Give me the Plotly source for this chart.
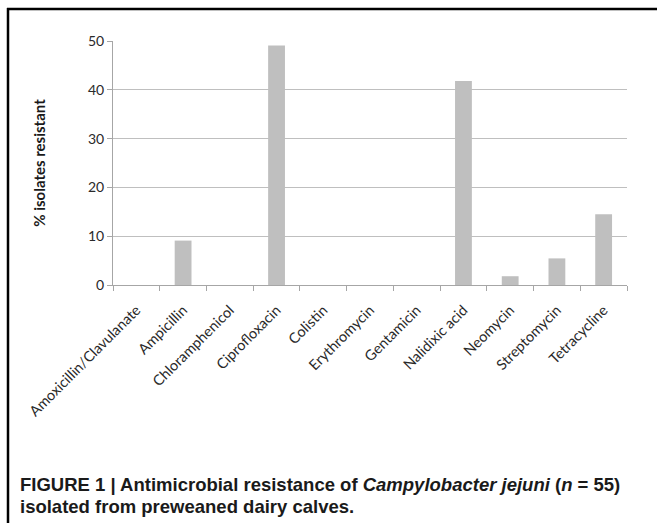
import plotly.graph_objects as go

categories = ["Amoxicillin/Clavulanate", "Ampicillin", "Chloramphenicol", "Ciprofloxacin",
              "Colistin", "Erythromycin", "Gentamicin", "Nalidixic acid", "Neomycin",
              "Streptomycin", "Tetracycline"]
resistant_pct = [0, 9.1, 0, 49.1, 0, 0, 0, 41.8, 1.8, 5.45, 14.5]
y_ticks = [0, 10, 20, 30, 40, 50]

W, H = 657, 523
L, R, T, B = 113, 30, 41, 238
PW, PH = W - L - R, H - T - B


def px_x(px):
    return (px - L) / PW


def px_y(py):
    return 1 - (py - T) / PH


fig = go.Figure()
fig.add_trace(go.Bar(x=categories, y=resistant_pct, marker=dict(color="#bfbfbf", line=dict(width=0)),
                     width=0.36))

fig.update_layout(
    width=W, height=H,
    margin=dict(l=L, r=R, t=T, b=B, autoexpand=False),
    paper_bgcolor="white", plot_bgcolor="white",
    showlegend=False,
    font=dict(family="Lato, Liberation Sans, sans-serif", color="#333333"),
)
fig.update_xaxes(
    tickangle=-45, tickfont=dict(size=14.5, color="#2a2a2a", family="Lato"),
    showline=True, linecolor="#a6a6a6", linewidth=1,
    ticks="outside", ticklen=5, tickcolor="#a6a6a6", tickson="boundaries",
    ticklabelstandoff=10,
    showgrid=False, range=[-0.5, 10.5],
)
fig.update_yaxes(
    range=[0, 50], tickvals=y_ticks, ticktext=[str(v) for v in y_ticks],
    tickfont=dict(size=14, color="#2a2a2a", family="Lato"),
    showline=True, linecolor="#a6a6a6", linewidth=1,
    ticks="outside", ticklen=5, tickcolor="#a6a6a6",
    showgrid=True, gridcolor="#bfbfbf", gridwidth=1, zeroline=False,
    title=dict(text="<b>% isolates resistant</b>", font=dict(size=15, color="#1a1a1a", family="Lato"), standoff=38),
)

# figure border (left and top)
fig.add_shape(type="line", xref="paper", yref="paper",
              x0=px_x(8), x1=px_x(8), y0=px_y(8), y1=px_y(H + 5),
              line=dict(color="black", width=2.5))
fig.add_shape(type="line", xref="paper", yref="paper",
              x0=px_x(7), x1=px_x(W + 5), y0=px_y(9), y1=px_y(9),
              line=dict(color="black", width=2.5))

cap_font = dict(family="Liberation Sans, Arial, sans-serif", size=18.5, color="#1a1a1a")
fig.add_annotation(xref="paper", yref="paper", x=px_x(18), y=px_y(484),
                   xanchor="left", yanchor="middle", showarrow=False, align="left",
                   text="<b>FIGURE 1 | Antimicrobial resistance of <i>Campylobacter jejuni</i> (<i>n</i> = 55)</b>",
                   font=cap_font)
fig.add_annotation(xref="paper", yref="paper", x=px_x(18), y=px_y(506),
                   xanchor="left", yanchor="middle", showarrow=False, align="left",
                   text="<b>isolated from preweaned dairy calves.</b>",
                   font=cap_font)

fig.write_html("out.html", config={"displayModeBar": False},
               post_script="document.body.style.margin='0';document.body.style.overflow='hidden';")
